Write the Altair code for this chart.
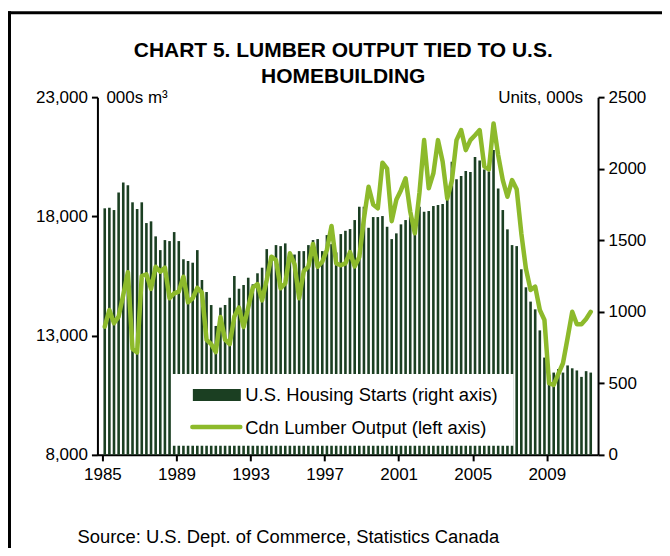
import altair as alt
import pandas as pd

# ---------------- data ----------------
years = list(range(1985, 2012))
quarters = [f"{y}Q{q}" for y in years for q in range(1, 5)][:106]

# U.S. housing starts, units 000s (right axis)
housing_starts = [
    1723, 1727, 1711, 1834, 1904, 1885, 1765, 1718, 1765, 1620,
    1632, 1527, 1431, 1501, 1494, 1557, 1494, 1367, 1355, 1343,
    1431, 1222, 1138, 1047, 901, 1029, 1047, 1098, 1250, 1161,
    1187, 1238, 1192, 1269, 1308, 1438, 1397, 1466, 1459, 1478,
    1410, 1400, 1424, 1424, 1466, 1501, 1508, 1424, 1536, 1473,
    1415, 1543, 1566, 1578, 1641, 1734, 1734, 1587, 1662, 1662,
    1669, 1594, 1508, 1548, 1611, 1641, 1664, 1610, 1734, 1699,
    1704, 1739, 1746, 1753, 1781, 2048, 1926, 1948, 1983, 1976,
    2081, 2057, 1994, 1980, 2130, 1862, 1711, 1576, 1466, 1459,
    1297, 1171, 1071, 1017, 870, 680, 560, 575, 600, 575,
    625, 605, 590, 545, 585, 575,
]

# Canadian lumber output, 000s m3 (left axis)
lumber_output = [
    13376, 14076, 13518, 13796, 14700, 15660, 12440, 12300, 15500, 15570,
    14960, 15890, 15680, 15850, 14566, 14775, 14845, 15471, 14400, 14566,
    15000, 14800, 12820, 12640, 12310, 13780, 12830, 12640, 13800, 14180,
    13360, 14180, 15020, 15160, 14480, 15330, 16310, 16170, 14985, 15194,
    16450, 16000, 14566, 15700, 15900, 16841, 15890, 16100, 16600, 17600,
    16031, 15950, 16031, 16500, 15900, 16300, 17900, 19241, 18500, 18336,
    20250, 20000, 17800, 18700, 19100, 19594, 18200, 17289, 19000, 21198,
    19175, 19800, 21198, 20300, 18750, 19500, 21198, 21618, 20779, 21198,
    21400, 21618, 20100, 19970, 21898, 20570, 19523, 18823, 19523, 19139,
    17289, 15800, 14913, 15052, 14076, 13656, 11004, 10933, 11400, 11842,
    12900, 14000, 13480, 13480, 13700, 14000,
]

x_ticks = [1985, 1989, 1993, 1997, 2001, 2005, 2009]
left_ticks = [8000, 13000, 18000, 23000]
right_ticks = [0, 500, 1000, 1500, 2000, 2500]

title_lines = ["CHART 5. LUMBER OUTPUT TIED TO U.S.", "HOMEBUILDING"]
left_unit = "000s m³"
right_unit = "Units, 000s"
legend_bar = "U.S. Housing Starts (right axis)"
legend_line = "Cdn Lumber Output (left axis)"
source = "Source: U.S. Dept. of Commerce, Statistics Canada"

# -----------------------------------------------------------------
t = [int(q[:4]) + (int(q[-1]) - 0.5) / 4 for q in quarters]
df = pd.DataFrame({"quarter": quarters, "t": t,
                   "starts": housing_starts, "lumber": lumber_output})

FONT = "Liberation Sans"
BAR = "#1B3F22"
LINE = "#8DBA2B"
W, H = 501, 358
FS = 17
FS_TXT = 18.4

axis_common = dict(domainColor="black", domainWidth=2, tickColor="black",
                   tickWidth=2, tickSize=6, labelFont=FONT, labelFontSize=FS,
                   labelColor="black", grid=False, title=None)

x_enc = alt.X("t:Q",
              scale=alt.Scale(domain=[1985, 2011.5], nice=False, zero=False),
              axis=alt.Axis(values=x_ticks, format="d", labelPadding=6,
                            **axis_common))

bars = alt.Chart(df).mark_bar(color=BAR, size=2.6).encode(
    x=x_enc,
    y=alt.Y("starts:Q", scale=alt.Scale(domain=[0, 2500], nice=False),
            axis=alt.Axis(orient="right", values=right_ticks, format="d",
                          labelPadding=4, **axis_common)),
)

line = alt.Chart(df).mark_line(color=LINE, strokeWidth=4.5,
                               strokeJoin="round", strokeCap="round").encode(
    x=x_enc,
    y=alt.Y("lumber:Q",
            scale=alt.Scale(domain=[8000, 23000], nice=False, zero=False),
            axis=alt.Axis(orient="left", values=left_ticks, format=",d",
                          labelPadding=4, **axis_common)),
)

one = pd.DataFrame({"k": [0]})


def txt(s, x, y, size=FS_TXT, weight="normal", align="left", baseline="middle"):
    return alt.Chart(one).mark_text(text=s, font=FONT, fontSize=size,
                                    fontWeight=weight, align=align,
                                    baseline=baseline, color="black").encode(
        x=alt.value(x), y=alt.value(y))


legend_box = alt.Chart(one).mark_rect(color="white").encode(
    x=alt.value(74.5), x2=alt.value(416.5), y=alt.value(277), y2=alt.value(349))
legend_swatch = alt.Chart(one).mark_rect(color=BAR).encode(
    x=alt.value(95.5), x2=alt.value(143.5), y=alt.value(292), y2=alt.value(304))
legend_lswatch = alt.Chart(one).mark_rule(color=LINE, strokeWidth=4.5,
                                          strokeCap="round").encode(
    x=alt.value(95), x2=alt.value(143), y=alt.value(330))

frame_top = alt.Chart(one).mark_rule(color="black", strokeWidth=3).encode(
    x=alt.value(-89.5), x2=alt.value(566), y=alt.value(-84.5))
frame_left = alt.Chart(one).mark_rule(color="black", strokeWidth=3).encode(
    x=alt.value(-88), y=alt.value(-86), y2=alt.value(452))

overlays = alt.layer(
    legend_box, legend_swatch, legend_lswatch,
    txt(legend_bar, 148, 298),
    txt(legend_line, 148, 331),
    txt(title_lines[0], 246, -40, size=21, weight="bold", align="center",
        baseline="alphabetic"),
    txt(title_lines[1], 246, -14, size=21, weight="bold", align="center",
        baseline="alphabetic"),
    txt(left_unit, 9, 1, size=FS),
    txt(right_unit, 486, 1, size=FS, align="right"),
    txt(source, -20, 440),
    frame_top, frame_left,
)

chart = alt.layer(bars, line, overlays).resolve_scale(y="independent").properties(
    width=W, height=H,
    autosize=alt.AutoSizeParams(type="none"),
    padding={"left": 89.5, "top": 89, "right": 64, "bottom": 93},
    background="white",
).configure_view(stroke=None)

chart.save("out.html", embed_options={"renderer": "svg", "actions": False})
